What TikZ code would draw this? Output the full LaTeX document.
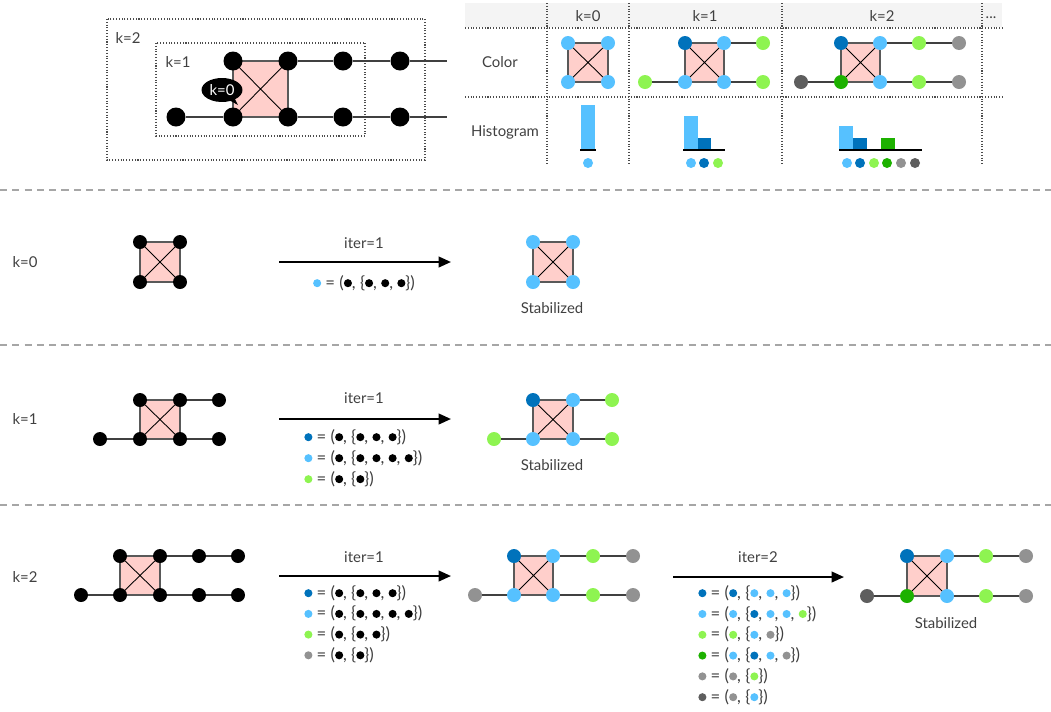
\documentclass[tikz,border=0pt]{standalone}
\usepackage{fontspec}
\setmainfont{Lato}
\usepackage{xcolor}
\usetikzlibrary{arrows.meta,shapes.callouts,backgrounds}

\definecolor{lb}{HTML}{56C1FF}
\definecolor{db}{HTML}{0072BB}
\definecolor{gr}{HTML}{8EF451}
\definecolor{dgr}{HTML}{1DB100}
\definecolor{gy}{HTML}{929292}
\definecolor{dgy}{HTML}{5E5E5E}
\definecolor{pinkfill}{HTML}{FFCFCB}
\definecolor{txt}{HTML}{404040}
\definecolor{hdr}{HTML}{F4F4F4}

\newcommand{\dotc}[1]{\tikz[baseline=-0.6ex]\fill[#1] (0,0) circle (2.3pt);}
\newcommand{\bd}{\dotc{black}}
\newcommand{\pinkbox}[4]{%
  \begin{scope}[on background layer]
    \path[sq] (#1.center) rectangle (#2.center);
    \draw[diag] (#1.center) -- (#2.center) (#3.center) -- (#4.center);
  \end{scope}}

\tikzset{
  vtx/.style={circle,inner sep=0pt,minimum size=0.28cm},
  bigvtx/.style={circle,fill=black,inner sep=0pt,minimum size=0.38cm},
  link/.style={draw=black!75,line width=0.8pt},
  sq/.style={fill=pinkfill,draw=black!65,line width=0.8pt},
  diag/.style={draw=black,line width=0.5pt},
  flow/.style={-{Triangle[length=7pt,width=6pt]},line width=1.2pt},
  lbl/.style={text=txt,inner sep=0pt,font=\fontsize{8.5}{10}\selectfont},
  eq/.style={lbl,anchor=west,font=\fontsize{9.5}{11}\selectfont},
  rowline/.style={draw=gray!70,dash pattern=on 4pt off 3pt,line width=0.6pt},
  tabline/.style={draw=black!70,densely dotted,line width=0.6pt}
}

\begin{document}
\begin{tikzpicture}[x=0.02cm,y=-0.02cm]
\useasboundingbox (0,0) rectangle (1051,711);

% neighbourhoods
\draw[tabline] (107,19) rectangle (425,160);
\draw[tabline] (156,43) rectangle (365,136);
\node[lbl] (lk2) at (128,38) {k=2};
\node[lbl] (lk1) at (178,62) {k=1};
\foreach \n/\x/\y in {g1/233/61,g2/288/61,g3/343/61,g4/400/61,g5/176/117,g6/233/117,g7/288/117,g8/343/117,g9/400/117}
  \node[bigvtx] (\n) at (\x,\y) {};
\coordinate (ge1) at (447,61);
\coordinate (ge2) at (447,117);
\pinkbox{g1}{g7}{g2}{g6}
\draw[link] (g2) -- (g3) -- (g4) -- (ge1) (g5) -- (g6) (g7) -- (g8) -- (g9) -- (ge2);
\node[ellipse callout,fill=black,text=white,inner sep=0pt,minimum width=0.82cm,minimum height=0.48cm,
  font=\fontsize{8.5}{10}\selectfont,callout absolute pointer={(238,105)}] (lk0) at (222,90) {k=0};

% table
\fill[hdr] (465,3) rectangle (1002,27);
\foreach \y in {28,97} \draw[tabline] (465,\y) -- (1002,\y);
\foreach \x in {547,629,782,982} \draw[tabline] (\x,3) -- (\x,165);
\foreach \n/\x/\t in {h0/588/k=0,h1/705/k=1,h2/882/k=2}
  \node[lbl] (\n) at (\x,16) {\t};
\node[lbl] (h3) at (991,18) {...};
\node[lbl] (color) at (500,62) {Color};
\node[lbl] (histo) at (505,132) {Histogram};

\foreach \n/\x/\y/\c in {a1/568/43/lb,a2/608/43/lb,a3/568/82/lb,a4/608/82/lb}
  \node[vtx,fill=\c] (\n) at (\x,\y) {};
\pinkbox{a1}{a4}{a2}{a3}

\foreach \n/\x/\y/\c in {b1/685/43/db,b2/724/43/lb,b3/763/43/gr,b4/645/82/gr,b5/685/82/lb,b6/724/82/lb,b7/763/82/gr}
  \node[vtx,fill=\c] (\n) at (\x,\y) {};
\pinkbox{b1}{b6}{b2}{b5}
\draw[link] (b2) -- (b3) (b4) -- (b5) (b6) -- (b7);

\foreach \n/\x/\y/\c in {c1/841/43/db,c2/880/43/lb,c3/919/43/gr,c4/959/43/gy,c5/801/82/dgy,c6/841/82/dgr,c7/880/82/lb,c8/919/82/gr,c9/959/82/gy}
  \node[vtx,fill=\c] (\n) at (\x,\y) {};
\pinkbox{c1}{c7}{c2}{c6}
\draw[link] (c2) -- (c3) -- (c4) (c5) -- (c6) (c7) -- (c8) -- (c9);

% histograms
\fill[lb] (581,105) rectangle (595,149);
\draw[line width=1.2pt] (580,150) -- (596,150);
\fill[lb] (588,163) circle (5);
\fill[lb] (684,116) rectangle (698,149);
\fill[db] (698,138) rectangle (711,149);
\draw[line width=1.2pt] (683,150) -- (725,150);
\foreach \x/\c in {691/lb,704/db,718/gr} \fill[\c] (\x,163) circle (5);
\fill[lb] (839,126) rectangle (853,149);
\fill[db] (853,138) rectangle (867,149);
\fill[dgr] (881,138) rectangle (895,149);
\draw[line width=1.2pt] (839,150) -- (922,150);
\foreach \x/\c in {847/lb,860/db,874/gr,887/dgr,901/gy,915/dgy} \fill[\c] (\x,163) circle (5);

% rows
\foreach \y in {190,345,505} \draw[rowline] (0,\y) -- (1051,\y);
\foreach \n/\y/\t in {r0/262/k=0,r1/419/k=1,r2/577/k=2}
  \node[lbl] (\n) at (25,\y) {\t};

% k=0
\foreach \n/\x/\y in {p1/140/242,p2/180/242,p3/140/282,p4/180/282}
  \node[vtx,fill=black] (\n) at (\x,\y) {};
\pinkbox{p1}{p4}{p2}{p3}
\coordinate (s0) at (279,262);
\coordinate (t0) at (451,262);
\draw[flow] (s0) -- (t0);
\node[lbl] (it0) at (364,243) {iter=1};
\node[eq,anchor=center] (eq0) at (364,283) {\dotc{lb} = (\bd, \{\bd, \bd, \bd\})};
\foreach \n/\x/\y in {q1/533/242,q2/573/242,q3/533/282,q4/573/282}
  \node[vtx,fill=lb] (\n) at (\x,\y) {};
\pinkbox{q1}{q4}{q2}{q3}
\node[lbl] (st0) at (552,308) {Stabilized};

% k=1
\foreach \n/\x/\y in {u1/140/400,u2/180/400,u3/219/400,u4/100/439,u5/140/439,u6/180/439,u7/219/439}
  \node[vtx,fill=black] (\n) at (\x,\y) {};
\pinkbox{u1}{u6}{u2}{u5}
\draw[link] (u2) -- (u3) (u4) -- (u5) (u6) -- (u7);
\coordinate (s1) at (279,419);
\coordinate (t1) at (451,419);
\draw[flow] (s1) -- (t1);
\node[lbl] (it1) at (364,398) {iter=1};
\foreach \t [count=\i] in {{\dotc{db} = (\bd, \{\bd, \bd, \bd\})},
    {\dotc{lb} = (\bd, \{\bd, \bd, \bd, \bd\})},
    {\dotc{gr} = (\bd, \{\bd\})}}
  \node[eq] (ea\i) at (304,416+21*\i) {\t};
\foreach \n/\x/\y/\c in {v1/533/400/db,v2/573/400/lb,v3/612/400/gr,v4/494/439/gr,v5/533/439/lb,v6/573/439/lb,v7/612/439/gr}
  \node[vtx,fill=\c] (\n) at (\x,\y) {};
\pinkbox{v1}{v6}{v2}{v5}
\draw[link] (v2) -- (v3) (v4) -- (v5) (v6) -- (v7);
\node[lbl] (st1) at (552,465) {Stabilized};

% k=2
\foreach \n/\x/\y in {w1/120/556,w2/160/556,w3/199/556,w4/238/556,w5/81/595,w6/120/595,w7/160/595,w8/199/595,w9/238/595}
  \node[vtx,fill=black] (\n) at (\x,\y) {};
\pinkbox{w1}{w7}{w2}{w6}
\draw[link] (w2) -- (w3) -- (w4) (w5) -- (w6) (w7) -- (w8) -- (w9);
\coordinate (s2) at (279,576);
\coordinate (t2) at (451,576);
\draw[flow] (s2) -- (t2);
\node[lbl] (it2) at (364,557) {iter=1};
\foreach \t [count=\i] in {{\dotc{db} = (\bd, \{\bd, \bd, \bd\})},
    {\dotc{lb} = (\bd, \{\bd, \bd, \bd, \bd\})},
    {\dotc{gr} = (\bd, \{\bd, \bd\})},
    {\dotc{gy} = (\bd, \{\bd\})}}
  \node[eq] (eb\i) at (304,572.3+20.7*\i) {\t};
\foreach \n/\x/\y/\c in {m1/514/556/db,m2/553/556/lb,m3/593/556/gr,m4/633/556/gy,m5/475/595/gy,m6/514/595/lb,m7/553/595/lb,m8/593/595/gr,m9/633/595/gy}
  \node[vtx,fill=\c] (\n) at (\x,\y) {};
\pinkbox{m1}{m7}{m2}{m6}
\draw[link] (m2) -- (m3) -- (m4) (m5) -- (m6) (m7) -- (m8) -- (m9);
\coordinate (s3) at (673,577);
\coordinate (t3) at (844,577);
\draw[flow] (s3) -- (t3);
\node[lbl] (it3) at (758,557) {iter=2};
\foreach \t [count=\i] in {{\dotc{db} = (\dotc{db}, \{\dotc{lb}, \dotc{lb}, \dotc{lb}\})},
    {\dotc{lb} = (\dotc{lb}, \{\dotc{db}, \dotc{lb}, \dotc{lb}, \dotc{gr}\})},
    {\dotc{gr} = (\dotc{gr}, \{\dotc{lb}, \dotc{gy}\})},
    {\dotc{dgr} = (\dotc{lb}, \{\dotc{db}, \dotc{lb}, \dotc{gy}\})},
    {\dotc{gy} = (\dotc{gy}, \{\dotc{gr}\})},
    {\dotc{dgy} = (\dotc{gy}, \{\dotc{lb}\})}}
  \node[eq] (ec\i) at (698,572.2+20.8*\i) {\t};
\foreach \n/\x/\y/\c in {o1/907/556/db,o2/947/556/lb,o3/986/556/gr,o4/1026/556/gy,o5/867/596/dgy,o6/907/596/dgr,o7/947/596/lb,o8/986/596/gr,o9/1026/596/gy}
  \node[vtx,fill=\c] (\n) at (\x,\y) {};
\pinkbox{o1}{o7}{o2}{o6}
\draw[link] (o2) -- (o3) -- (o4) (o5) -- (o6) (o7) -- (o8) -- (o9);
\node[lbl] (st2) at (946,623) {Stabilized};
\end{tikzpicture}
\end{document}
